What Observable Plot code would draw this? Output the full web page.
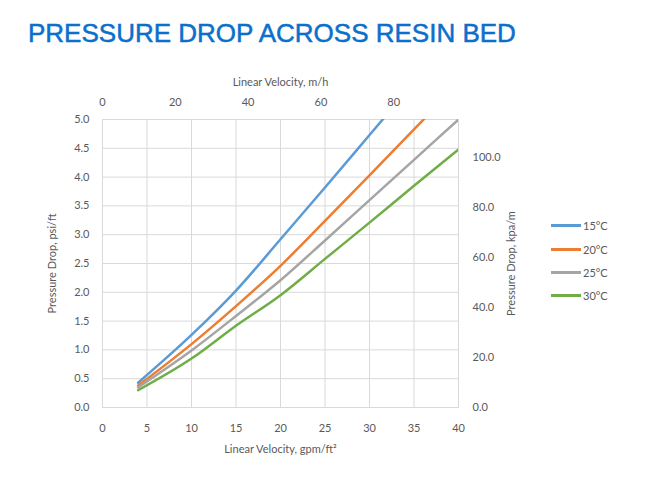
<!DOCTYPE html>
<html><head><meta charset="utf-8">
<script src="https://cdn.jsdelivr.net/npm/d3@7"></script>
<script src="https://cdn.jsdelivr.net/npm/@observablehq/plot@0.6"></script>
<style>
body{margin:0;background:#fff;width:646px;height:501px;overflow:hidden;position:relative;font-family:Lato,"Open Sans",sans-serif}
#title{position:absolute;left:28px;top:20px;font:26px "Liberation Sans",Arial,sans-serif;color:#0b6fcc;white-space:nowrap;line-height:26px;-webkit-text-stroke:0.5px #0b6fcc}
#chart{position:absolute;left:0;top:62px}
#legend{position:absolute;left:551px;top:214px;font-size:11px;color:#595959}
.item{display:flex;align-items:center;height:23.4px}
.swatch{width:30px;height:3px;margin-right:2px}
</style></head>
<body>
<div id="title">PRESSURE DROP ACROSS RESIN BED</div>
<div id="chart"></div>
<div id="legend"></div>
<script>
// Linear velocity, gpm/ft²
const velocity = [4, 10, 15, 20, 25, 30, 35, 40];
const temps = ["15°C", "20°C", "25°C", "30°C"];
const colors = ["#5B9BD5", "#ED7D31", "#A5A5A5", "#70AD47"];
// Pressure drop, psi/ft
const drop15 = [0.43, 1.26, 2.03, 2.92, 3.82, 4.73, 5.64, 6.55];
const drop20 = [0.38, 1.10, 1.76, 2.46, 3.24, 4.03, 4.83, 5.62];
const drop25 = [0.35, 0.99, 1.59, 2.21, 2.90, 3.60, 4.30, 5.00];
const drop30 = [0.30, 0.85, 1.42, 1.95, 2.58, 3.21, 3.85, 4.48];
const series = [drop15, drop20, drop25, drop30];
const xTicks = [0, 5, 10, 15, 20, 25, 30, 35, 40];
const yTicks = [0, 0.5, 1, 1.5, 2, 2.5, 3, 3.5, 4, 4.5, 5];
const topTicks = [0, 20, 40, 60, 80];        // m/h
const rightTicks = [0, 20, 40, 60, 80, 100]; // kpa/m
const MH = 2.445;      // m/h per gpm/ft²
const KPA = 115 / 5;   // secondary axis 0–115 kpa/m spans 0–5 psi/ft

const data = temps.flatMap((t, i) => velocity.map((v, j) => ({v, p: series[i][j], t})));
const grid = "#d9d9d9";

const chart = Plot.plot({
  width: 646, height: 439,
  marginLeft: 102, marginRight: 188, marginTop: 57, marginBottom: 94,
  x: {domain: [0, 40]},
  y: {domain: [0, 5]},
  color: {domain: temps, range: colors},
  style: {fontFamily: "Lato, 'Open Sans', sans-serif", fontSize: "11px", color: "#595959", background: "white"},
  marks: [
    Plot.gridX({ticks: xTicks, stroke: grid, strokeOpacity: 1}),
    Plot.gridY({ticks: yTicks, stroke: grid, strokeOpacity: 1}),
    Plot.frame({stroke: grid}),
    Plot.axisX({ticks: xTicks, tickSize: 0, tickPadding: 17, label: "Linear Velocity, gpm/ft²", labelAnchor: "center", labelArrow: "none", labelOffset: 45}),
    Plot.axisX({anchor: "top", ticks: topTicks.map(d => d / MH), tickFormat: d => Math.round(d * MH), tickSize: 0, tickPadding: 14, label: "Linear Velocity, m/h", labelAnchor: "center", labelArrow: "none", labelOffset: 41}),
    Plot.axisY({anchor: "left", ticks: yTicks, tickFormat: d => d.toFixed(1), tickSize: 0, tickPadding: 13, label: "Pressure Drop, psi/ft", labelAnchor: "center", labelArrow: "none", labelOffset: 54}),
    Plot.axisY({anchor: "right", ticks: rightTicks.map(d => d / KPA), tickFormat: d => (d * KPA).toFixed(1), tickSize: 0, tickPadding: 14, label: "Pressure Drop, kpa/m", labelAnchor: "center", labelArrow: "none", labelOffset: 56}),
    Plot.line(data, {x: "v", y: "p", stroke: "t", strokeWidth: 2.5, clip: true, curve: "monotone-x"})
  ]
});
document.getElementById("chart").append(chart);

const legend = document.getElementById("legend");
temps.forEach((t, i) => {
  const item = document.createElement("div");
  item.className = "item";
  const sw = document.createElement("span");
  sw.className = "swatch";
  sw.style.background = colors[i];
  const tx = document.createElement("span");
  tx.textContent = t;
  item.append(sw, tx);
  legend.append(item);
});
</script>
</body></html>
